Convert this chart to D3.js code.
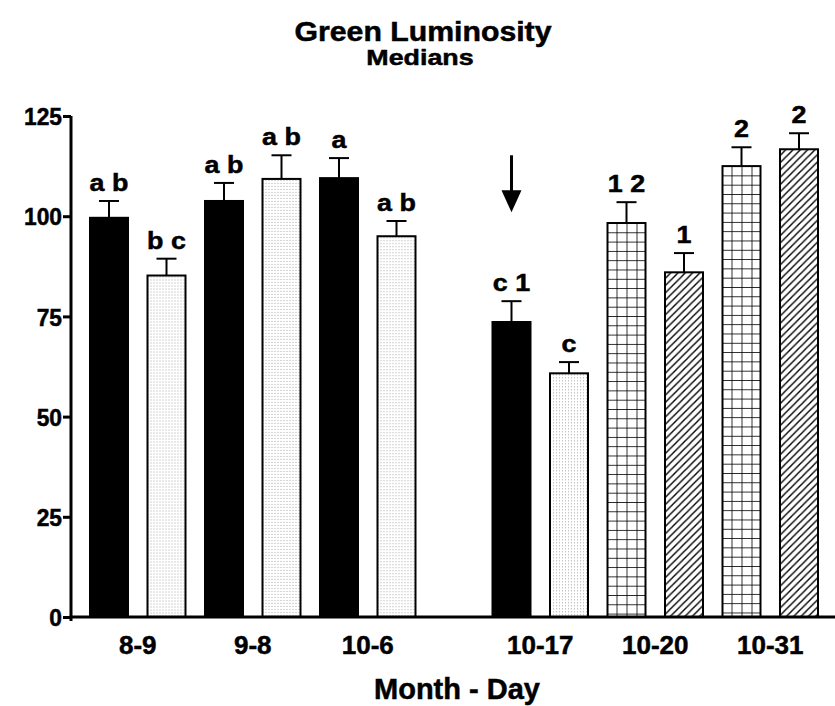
<!DOCTYPE html>
<html>
<head>
<meta charset="utf-8">
<script src="https://cdn.jsdelivr.net/npm/d3@7"></script>
<style>
  html, body { margin: 0; padding: 0; background: #fff; }
  svg text { font-family: "Liberation Sans", Arial, sans-serif; font-weight: bold; fill: #000; stroke: #000; stroke-width: 0.5px; }
</style>
</head>
<body>
<svg id="chart" width="835" height="706"></svg>
<script>
// ---------------- data ----------------
const dates = ["8-9", "9-8", "10-6", "10-17", "10-20", "10-31"];
const barGroup = [0, 0, 1, 1, 2, 2, 3, 3, 4, 4, 5, 5];
const treatments = ["A", "B", "A", "B", "A", "B", "A", "B", "C", "D", "C", "D"];
const medians = [99.6, 85.2, 103.8, 109.3, 109.5, 95.0, 73.6, 60.8, 98.3, 86.0, 112.5, 116.7];
const errors = [4.2, 4.2, 4.5, 5.9, 5.0, 3.8, 5.2, 2.8, 5.2, 4.8, 4.7, 4.0];
const letters = ["a b", "b c", "a b", "a b", "a", "a b", "c 1", "c", "1 2", "1", "2", "2"];
const yTicks = [0, 25, 50, 75, 100, 125];
const arrowBar = 6;              // arrow marks the 10-17 black bar
const arrowRange = [115.2, 101]; // arrow from/to (y units)

// ---------------- layout ----------------
const svg = d3.select("#chart");
const W = 835, H = 706;
const axisX = 71, axisY = 617;

// slots: groups 0-2 then an empty slot, then groups 3-5
const slotKeys = [];
medians.forEach((v, i) => {
  if (i === 6) slotKeys.push("gap");
  slotKeys.push("bar" + i);
});

const x = d3.scaleBand().domain(slotKeys).range([89, 819]).paddingInner(0.3043).paddingOuter(0);
const y = d3.scaleLinear().domain([0, 125]).range([axisY, 116]);

// horizontally stretched text helper
function label(parent, tx, ty, txt, size, sx, anchor) {
  return parent.append("text")
    .attr("transform", `translate(${tx},${ty}) scale(${sx},1)`)
    .attr("text-anchor", anchor || "middle")
    .style("font-size", size + "px")
    .text(txt);
}

// ---------------- patterns ----------------
const defs = svg.append("defs");
const bw = x.bandwidth();

function patternFor(i) {
  const t = treatments[i];
  const bx = x("bar" + i);
  const by = y(medians[i]);
  const id = "pat" + i;
  if (t === "A") return "#000";
  if (t === "B") {
    const p = defs.append("pattern").attr("id", id).attr("patternUnits", "userSpaceOnUse")
      .attr("x", bx).attr("y", by).attr("width", 3).attr("height", 3);
    p.append("rect").attr("width", 3).attr("height", 3).attr("fill", "#fff");
    p.append("rect").attr("x", 1).attr("y", 1).attr("width", 1).attr("height", 1).attr("fill", "#a8a8a8");
  } else if (t === "C") {
    const p = defs.append("pattern").attr("id", id).attr("patternUnits", "userSpaceOnUse")
      .attr("x", bx).attr("y", by).attr("width", 10).attr("height", 9.3);
    p.append("rect").attr("width", 10).attr("height", 9.3).attr("fill", "#fff");
    p.append("line").attr("x1", 0).attr("x2", 0).attr("y1", 0).attr("y2", 9.3).attr("stroke", "#000").attr("stroke-width", 1.6);
    p.append("line").attr("x1", 0).attr("x2", 10).attr("y1", 0).attr("y2", 0).attr("stroke", "#000").attr("stroke-width", 1.6);
  } else {
    const s = 7.3;
    const p = defs.append("pattern").attr("id", id).attr("patternUnits", "userSpaceOnUse")
      .attr("x", bx).attr("y", by).attr("width", s).attr("height", s);
    p.append("rect").attr("width", s).attr("height", s).attr("fill", "#fff");
    p.append("path").attr("d", `M${-1},${s + 1} L${s + 1},${-1} M${-1},1 L1,-1 M${s - 1},${s + 1} L${s + 1},${s - 1}`)
      .attr("stroke", "#000").attr("stroke-width", 1.4);
  }
  return `url(#${id})`;
}

// ---------------- bars ----------------
const bars = svg.append("g");
medians.forEach((v, i) => {
  const bx = x("bar" + i);
  bars.append("rect")
    .attr("x", bx + 1).attr("y", y(v))
    .attr("width", bw - 2).attr("height", axisY - y(v))
    .attr("fill", patternFor(i))
    .attr("stroke", "#000").attr("stroke-width", 2);
});

// error bars (upper only)
const err = svg.append("g").attr("stroke", "#000").attr("stroke-width", 2);
medians.forEach((v, i) => {
  const cx = x("bar" + i) + bw / 2;
  const top = y(v + errors[i]);
  err.append("line").attr("x1", cx).attr("x2", cx).attr("y1", y(v)).attr("y2", top);
  err.append("line").attr("x1", cx - 10).attr("x2", cx + 10).attr("y1", top).attr("y2", top);
});

// significance letters
medians.forEach((v, i) => {
  const cx = x("bar" + i) + bw / 2;
  label(svg, cx, y(v + errors[i]) - 10, letters[i], 24, 1.12);
});

// arrow annotation
{
  const cx = x("bar" + arrowBar) + bw / 2;
  const y1 = y(arrowRange[0]), y2 = y(arrowRange[1]);
  svg.append("line").attr("x1", cx).attr("x2", cx).attr("y1", y1).attr("y2", y2 - 18)
    .attr("stroke", "#000").attr("stroke-width", 3);
  svg.append("path").attr("d", `M${cx - 10},${y2 - 22} L${cx + 10},${y2 - 22} L${cx},${y2} Z`).attr("fill", "#000");
}

// ---------------- axes ----------------
const yAxis = svg.append("g").attr("transform", `translate(${axisX},0)`)
  .call(d3.axisLeft(y).tickValues(yTicks).tickSize(8).tickPadding(2));
yAxis.select(".domain").attr("stroke-width", 3).attr("d", `M0,${y(125)}V${axisY + 4}`);
yAxis.selectAll(".tick line").attr("stroke-width", 3);
yAxis.selectAll(".tick text")
  .attr("x", 0).attr("dy", "0.36em")
  .style("font-size", "24px")
  .attr("transform", "translate(-9,0) scale(0.95,1)");

// x axis line
svg.append("line").attr("x1", axisX - 1.5).attr("x2", W).attr("y1", axisY).attr("y2", axisY)
  .attr("stroke", "#000").attr("stroke-width", 3);

// x category labels at group centres
dates.forEach((d, g) => {
  const idx = barGroup.map((gg, i) => gg === g ? i : -1).filter(i => i >= 0);
  const left = x("bar" + idx[0]);
  const right = x("bar" + idx[idx.length - 1]) + bw;
  label(svg, (left + right) / 2, 654, d, 26, 1.0);
});

// titles
label(svg, 423, 41, "Green Luminosity", 27, 1.12);
label(svg, 420, 65, "Medians", 22, 1.22);
label(svg, 457, 699, "Month - Day", 29, 1.0);
</script>
</body>
</html>
